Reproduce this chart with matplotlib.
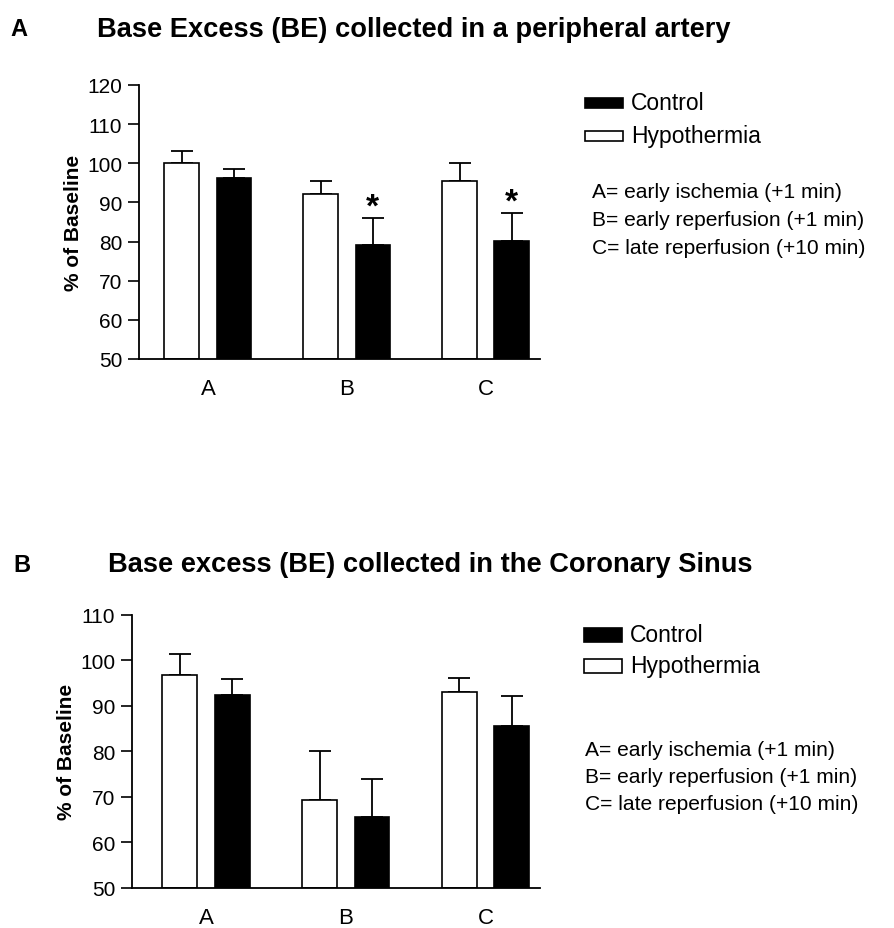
import matplotlib
matplotlib.use("Agg")
import matplotlib.pyplot as plt
from matplotlib.patches import Rectangle
import numpy as np

plt.rcParams['font.family'] = ['Liberation Sans', 'DejaVu Sans']

categories = ["A", "B", "C"]

# Panel A: peripheral artery
a_hypo = [100.0, 92.2, 95.4]
a_hypo_err = [3.2, 3.4, 4.7]
a_ctrl = [96.2, 79.2, 80.2]
a_ctrl_err = [2.4, 6.9, 7.1]
a_sig = [False, True, True]

# Panel B: coronary sinus
b_hypo = [96.7, 69.3, 93.0]
b_hypo_err = [4.7, 10.7, 3.1]
b_ctrl = [92.3, 65.6, 85.5]
b_ctrl_err = [3.5, 8.3, 6.7]
b_sig = [False, False, False]

legend_labels = ["Control", "Hypothermia"]
notes = ["A= early ischemia (+1 min)",
         "B= early reperfusion (+1 min)",
         "C= late reperfusion (+10 min)"]

W, H = 894, 929
fig = plt.figure(figsize=(W / 100, H / 100), dpi=100)


def px_axes(l, t, r, b):
    return fig.add_axes([l / W, 1 - b / H, (r - l) / W, (b - t) / H])


def draw_panel(ax, hypo, hypo_err, ctrl, ctrl_err, sig, ylim, yticks, xlim):
    x = np.arange(len(categories))
    w = 0.25
    off = 0.1875
    ax.bar(x - off, np.array(hypo) - ylim[0], w, bottom=ylim[0], color="white",
           edgecolor="black", linewidth=1.2, zorder=2)
    ax.bar(x + off, np.array(ctrl) - ylim[0], w, bottom=ylim[0], color="black",
           edgecolor="black", linewidth=1.2, zorder=2)
    for xi, v, e in zip(x - off, hypo, hypo_err):
        ax.errorbar(xi, v, yerr=[[0], [e]], fmt="none", ecolor="black",
                    elinewidth=1.3, capsize=8, capthick=1.3, zorder=1)
    for xi, v, e, s in zip(x + off, ctrl, ctrl_err, sig):
        ax.errorbar(xi, v, yerr=[[0], [e]], fmt="none", ecolor="black",
                    elinewidth=1.3, capsize=8, capthick=1.3, zorder=1)
        if s:
            ax.text(xi, v + e - 1.2, "*", ha="center", va="bottom",
                    fontsize=24, fontweight="bold")
    ax.set_ylim(*ylim)
    ax.set_xlim(*xlim)
    ax.set_yticks(yticks)
    ax.set_xticks(x)
    ax.set_xticklabels(categories)
    ax.tick_params(axis="y", length=8, width=1.2, labelsize=15, pad=4)
    ax.tick_params(axis="x", length=0, labelsize=16, pad=14)
    for sp in ["top", "right"]:
        ax.spines[sp].set_visible(False)
    for sp in ["left", "bottom"]:
        ax.spines[sp].set_linewidth(1.3)
    ax.set_ylabel("% of Baseline", fontsize=15, fontweight="bold", labelpad=3)


ax1 = px_axes(139, 86, 540, 360)
draw_panel(ax1, a_hypo, a_hypo_err, a_ctrl, a_ctrl_err, a_sig,
           (50, 120), np.arange(50, 121, 10), (-0.496, 2.39))

ax2 = px_axes(132, 615.7, 540, 888.7)
draw_panel(ax2, b_hypo, b_hypo_err, b_ctrl, b_ctrl_err, b_sig,
           (50, 110), np.arange(50, 111, 10), (-0.53, 2.39))

# Titles
fig.text(10 / W, 1 - 30 / H, "A", fontsize=17, fontweight="bold", va="center")
fig.text(97 / W, 1 - 30 / H, "Base Excess (BE) collected in a peripheral artery",
         fontsize=19.6, fontweight="bold", va="center")
fig.text(13 / W, 1 - 565 / H, "B", fontsize=17, fontweight="bold", va="center")
fig.text(108 / W, 1 - 565 / H, "Base excess (BE) collected in the Coronary Sinus",
         fontsize=19.6, fontweight="bold", va="center")


def legend_block(x_rect, y_ctrl, y_hypo, rect_h, x_note, y_notes):
    for lab, y, fc in [(legend_labels[0], y_ctrl, "black"),
                       (legend_labels[1], y_hypo, "white")]:
        fig.add_artist(Rectangle((x_rect / W, 1 - (y + rect_h / 2) / H),
                                 38 / W, rect_h / H, transform=fig.transFigure,
                                 facecolor=fc, edgecolor="black", linewidth=1.2))
        fig.text((x_rect + 46) / W, 1 - y / H, lab, fontsize=16.5, va="center")
    for note, y in zip(notes, y_notes):
        fig.text(x_note / W, 1 - y / H, note, fontsize=15.1, va="center")


legend_block(585, 104, 137, 10, 592, [193, 221, 249])
legend_block(584, 636, 667, 14, 585, [750, 778, 805])

fig.savefig("out.png", dpi=100)
